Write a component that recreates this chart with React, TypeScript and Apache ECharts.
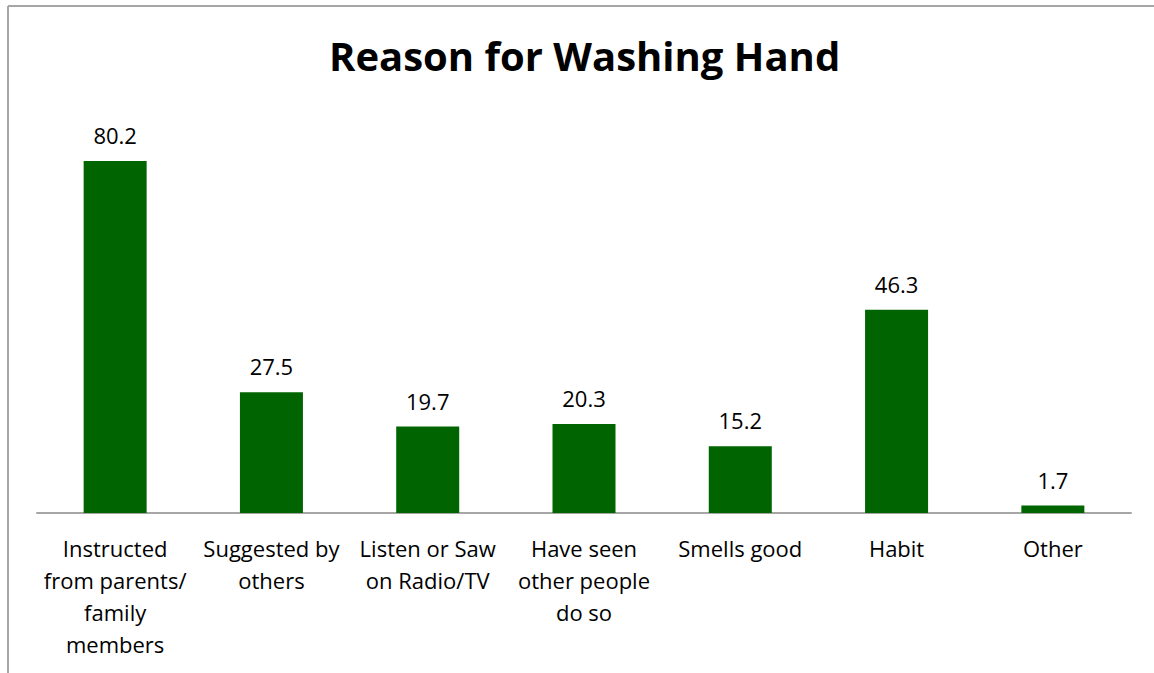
import React, { useEffect, useRef } from "react";
import * as echarts from "echarts";

const categories = [
  "Instructed\nfrom parents/\nfamily\nmembers",
  "Suggested by\nothers",
  "Listen or Saw\non Radio/TV",
  "Have seen\nother people\ndo so",
  "Smells good",
  "Habit",
  "Other",
];
const values = [80.2, 27.5, 19.7, 20.3, 15.2, 46.3, 1.7];
const titleText = "Reason for Washing Hand";

export default function App() {
  const ref = useRef<HTMLDivElement>(null);
  useEffect(() => {
    if (!ref.current) return;
    const chart = echarts.init(ref.current, null, { renderer: "svg" });
    chart.setOption({
      animation: false,
      backgroundColor: "#ffffff",
      title: {
        text: titleText,
        left: 324,
        top: 30,
        textStyle: {
          fontFamily: "Open Sans",
          fontWeight: "bold",
          fontSize: 40,
          color: "#000000",
        },
      },
      graphic: [
        {
          type: "line",
          shape: { x1: 8, y1: 6, x2: 1154, y2: 6 },
          style: { stroke: "#a6a6a6", lineWidth: 2 },
        },
        {
          type: "line",
          shape: { x1: 8, y1: 6, x2: 8, y2: 673 },
          style: { stroke: "#a6a6a6", lineWidth: 2 },
        },
      ],
      grid: { left: 37, right: 23, top: 118, height: 395, containLabel: false },
      xAxis: {
        type: "category",
        data: categories,
        axisLine: { lineStyle: { color: "#a6a6a6", width: 2 } },
        axisTick: { show: false },
        axisLabel: {
          interval: 0,
          margin: 19,
          fontFamily: "Open Sans",
          fontSize: 22,
          lineHeight: 32,
          color: "#000000",
        },
      },
      yAxis: {
        type: "value",
        min: 0,
        max: 90,
        show: false,
        splitLine: { show: false },
      },
      series: [
        {
          type: "bar",
          data: values,
          barWidth: 63,
          itemStyle: { color: "#006400" },
          label: {
            show: true,
            position: "top",
            distance: 15,
            fontFamily: "Open Sans",
            fontSize: 22,
            color: "#000000",
          },
        },
      ],
    });
    return () => chart.dispose();
  }, []);
  return (
    <div
      ref={ref}
      style={{ position: "fixed", left: 0, top: 0, width: 1154, height: 673 }}
    />
  );
}
